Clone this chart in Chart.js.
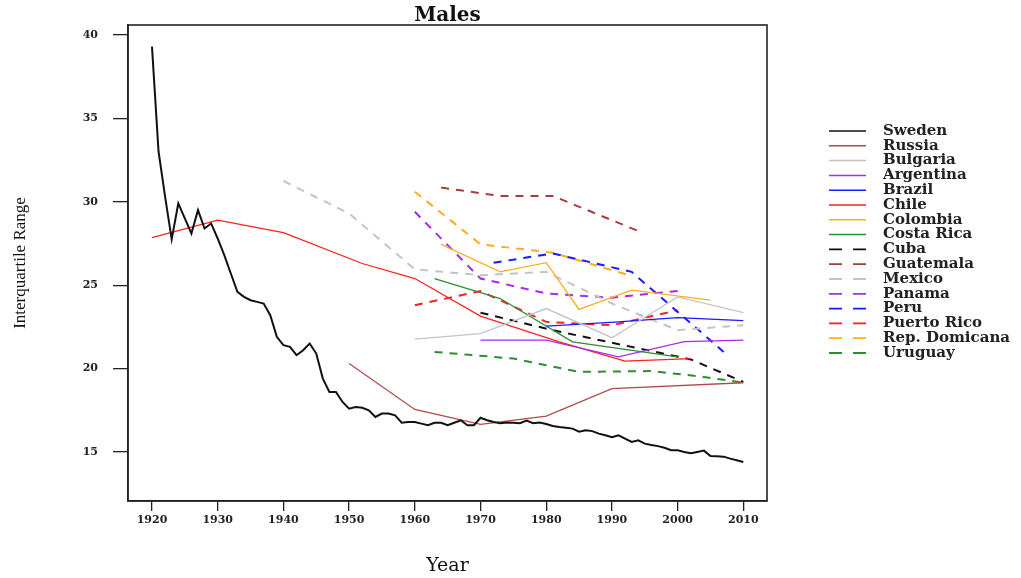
<!DOCTYPE html>
<html>
<head>
<meta charset="utf-8">
<script src="https://cdn.jsdelivr.net/npm/chart.js@4/dist/chart.umd.min.js"></script>
<style>
  html, body { margin: 0; padding: 0; background: #fff; }
  #wrap { width: 1021px; height: 578px; }
</style>
</head>
<body>
<div id="wrap"><canvas id="chart"></canvas></div>
<script>
// Sweden: one value per year, starting 1920
const swedenFirstYear = 1920;
const swedenIQR = [
    39.3, 33.0, 30.3, 27.75, 29.9, 29.0, 28.1, 29.5, 28.4, 28.7,
    27.8, 26.8, 25.7, 24.6, 24.3, 24.1, 24.0, 23.9, 23.2, 21.9,
    21.4, 21.3, 20.8, 21.1, 21.5, 20.9, 19.4, 18.6, 18.6, 18.0,
    17.6, 17.7, 17.65, 17.5, 17.1, 17.3, 17.3, 17.2, 16.75, 16.8,
    16.8, 16.7, 16.6, 16.75, 16.75, 16.6, 16.75, 16.9, 16.6, 16.6,
    17.05, 16.9, 16.8, 16.72, 16.76, 16.75, 16.72, 16.88, 16.72, 16.76,
    16.68, 16.56, 16.5, 16.45, 16.4, 16.22, 16.3, 16.25, 16.1, 16.0,
    15.88, 16.0, 15.8, 15.6, 15.7, 15.5, 15.42, 15.35, 15.25, 15.1,
    15.1, 15.0, 14.92, 15.0, 15.08, 14.76, 14.74, 14.72, 14.6, 14.5,
    14.4
];

const russiaYears = [1950, 1960, 1970, 1980, 1990, 2010];
const russiaIQR = [20.3, 17.55, 16.65, 17.15, 18.8, 19.15];

const bulgariaYears = [1960, 1970, 1980, 1990, 2000, 2010];
const bulgariaIQR = [21.77, 22.1, 23.6, 21.85, 24.3, 23.35];

const argentinaYears = [1970, 1980, 1991, 2001, 2010];
const argentinaIQR = [21.7, 21.7, 20.7, 21.62, 21.7];

const brazilYears = [1980, 1991, 2000, 2010];
const brazilIQR = [22.55, 22.8, 23.05, 22.87];

const chileYears = [1920, 1930, 1940, 1952, 1960, 1970, 1982, 1992, 2002];
const chileIQR = [27.85, 28.9, 28.15, 26.3, 25.4, 23.15, 21.6, 20.45, 20.6];

const colombiaYears = [1964, 1973, 1980, 1985, 1993, 2005];
const colombiaIQR = [27.45, 25.8, 26.35, 23.55, 24.7, 24.1];

const costaRicaYears = [1963, 1973, 1984, 2000];
const costaRicaIQR = [25.4, 24.2, 21.6, 20.7];

const cubaYears = [1970, 1981, 2002, 2010];
const cubaIQR = [23.35, 22.3, 20.55, 19.2];

const guatemalaYears = [1964, 1973, 1981, 1994];
const guatemalaIQR = [30.85, 30.35, 30.35, 28.25];

const mexicoYears = [1940, 1950, 1960, 1970, 1980, 1990, 2000, 2010];
const mexicoIQR = [31.25, 29.3, 25.95, 25.6, 25.8, 23.9, 22.3, 22.6];

const panamaYears = [1960, 1970, 1980, 1990, 2000];
const panamaIQR = [29.4, 25.4, 24.5, 24.25, 24.65];

const peruYears = [1972, 1981, 1993, 2007];
const peruIQR = [26.35, 26.9, 25.8, 21.0];

const puertoRicoYears = [1960, 1970, 1980, 1990, 2000];
const puertoRicoIQR = [23.8, 24.65, 22.8, 22.6, 23.5];

const repDomYears = [1960, 1970, 1981, 1993];
const repDomIQR = [30.6, 27.45, 26.95, 25.55];

const uruguayYears = [1963, 1975, 1985, 1996, 2004, 2010];
const uruguayIQR = [21.0, 20.6, 19.8, 19.85, 19.5, 19.15];

const xTicks = [1920, 1930, 1940, 1950, 1960, 1970, 1980, 1990, 2000, 2010];
const yTicks = [15, 20, 25, 30, 35, 40];

// pair years with values for chart.js
function pairs(years, values) {
    return values.map((v, i) => ({ x: years[i], y: v }));
}
const swedenYears = swedenIQR.map((_, i) => swedenFirstYear + i);

const DASH = [8, 7];
function series(label, years, values, color, dashed, width) {
    return {
        label: label,
        data: pairs(years, values),
        borderColor: color,
        borderWidth: width || (dashed ? 2 : 1.3),
        borderDash: dashed ? DASH : [],
        pointRadius: 0,
        tension: 0,
        fill: false
    };
}

const datasets = [
    series("Sweden", swedenYears, swedenIQR, "#111111", false, 2),
    series("Russia", russiaYears, russiaIQR, "#b24a4a", false),
    series("Bulgaria", bulgariaYears, bulgariaIQR, "#c4c4c4", false),
    series("Argentina", argentinaYears, argentinaIQR, "#a52cf0", false),
    series("Brazil", brazilYears, brazilIQR, "#1a1aff", false),
    series("Chile", chileYears, chileIQR, "#ff2020", false),
    series("Colombia", colombiaYears, colombiaIQR, "#ffac20", false),
    series("Costa Rica", costaRicaYears, costaRicaIQR, "#2e8e2e", false),
    series("Cuba", cubaYears, cubaIQR, "#111111", true),
    series("Guatemala", guatemalaYears, guatemalaIQR, "#a83c3c", true),
    series("Mexico", mexicoYears, mexicoIQR, "#c4c4c4", true),
    series("Panama", panamaYears, panamaIQR, "#a52cf0", true),
    series("Peru", peruYears, peruIQR, "#1a1aff", true),
    series("Puerto Rico", puertoRicoYears, puertoRicoIQR, "#ff2020", true),
    series("Rep. Domicana", repDomYears, repDomIQR, "#ffac20", true),
    series("Uruguay", uruguayYears, uruguayIQR, "#2e8e2e", true)
];

// R-style frame around the plot region, title centred over it
const boxPlugin = {
    id: "box",
    afterDatasetsDraw(chart) {
        const a = chart.chartArea, ctx = chart.ctx;
        ctx.save();
        ctx.strokeStyle = "#222";
        ctx.lineWidth = 1.6;
        ctx.setLineDash([]);
        ctx.strokeRect(a.left, a.top, a.right - a.left, a.bottom - a.top);
        ctx.fillStyle = "#111";
        ctx.font = "bold 20px 'DejaVu Serif'";
        ctx.textAlign = "center";
        ctx.textBaseline = "middle";
        ctx.fillText("Males", (a.left + a.right) / 2, 16);
        ctx.restore();
    }
};

// legend drawn to the right, one row per dataset
const legendPlugin = {
    id: "sideLegend",
    afterDraw(chart) {
        const ctx = chart.ctx;
        const x0 = 829, x1 = 866, tx = 883, y0 = 131, dy = 14.8;
        ctx.save();
        ctx.font = "bold 15px 'DejaVu Serif'";
        ctx.textBaseline = "middle";
        ctx.textAlign = "left";
        chart.data.datasets.forEach((ds, i) => {
            const y = y0 + i * dy;
            ctx.strokeStyle = ds.borderColor;
            ctx.lineWidth = ds.borderDash.length ? 1.8 : 1.5;
            ctx.setLineDash(ds.borderDash.length ? [13, 11] : []);
            ctx.beginPath();
            ctx.moveTo(x0, y);
            ctx.lineTo(x1, y);
            ctx.stroke();
            ctx.setLineDash([]);
            ctx.fillStyle = "#222";
            ctx.fillText(ds.label, tx, y);
        });
        ctx.restore();
    }
};

new Chart(document.getElementById("chart"), {
    type: "line",
    data: { datasets: datasets },
    options: {
        responsive: true,
        maintainAspectRatio: false,
        animation: false,
        layout: { padding: { left: 0, right: 254, top: 25, bottom: 0 } },
        plugins: {
            legend: { display: false },
            tooltip: { enabled: false },
            title: { display: false }
        },
        scales: {
            x: {
                type: "linear",
                min: 1916.35,
                max: 2013.6,
                afterFit: (s) => { s.height = 77; },
                afterBuildTicks: (s) => { s.ticks = xTicks.map((v) => ({ value: v })); },
                grid: { drawOnChartArea: false, drawTicks: true, tickLength: 10, color: "#222", lineWidth: 1.3 },
                border: { display: true, color: "#222", width: 1.6 },
                ticks: {
                    color: "#222",
                    padding: 3,
                    maxRotation: 0,
                    callback: (v) => String(v),
                    font: { family: "DejaVu Serif", size: 11, weight: "bold" }
                },
                title: {
                    display: true,
                    text: "Year",
                    color: "#111",
                    font: { family: "DejaVu Serif", size: 19 },
                    padding: { top: 0, bottom: 1 }
                }
            },
            y: {
                type: "linear",
                min: 12.06,
                max: 40.6,
                afterFit: (s) => { s.width = 128; },
                afterBuildTicks: (s) => { s.ticks = yTicks.map((v) => ({ value: v })); },
                grid: { drawOnChartArea: false, drawTicks: true, tickLength: 15, color: "#222", lineWidth: 1.3 },
                border: { display: true, color: "#222", width: 1.6 },
                ticks: {
                    color: "#222",
                    padding: 15,
                    callback: (v) => String(v),
                    font: { family: "DejaVu Serif", size: 11, weight: "bold" }
                },
                title: {
                    display: true,
                    text: "Interquartile Range",
                    color: "#111",
                    font: { family: "Liberation Serif", size: 17 },
                    padding: { top: 10, bottom: 0 }
                }
            }
        }
    },
    plugins: [boxPlugin, legendPlugin]
});
</script>
</body>
</html>
